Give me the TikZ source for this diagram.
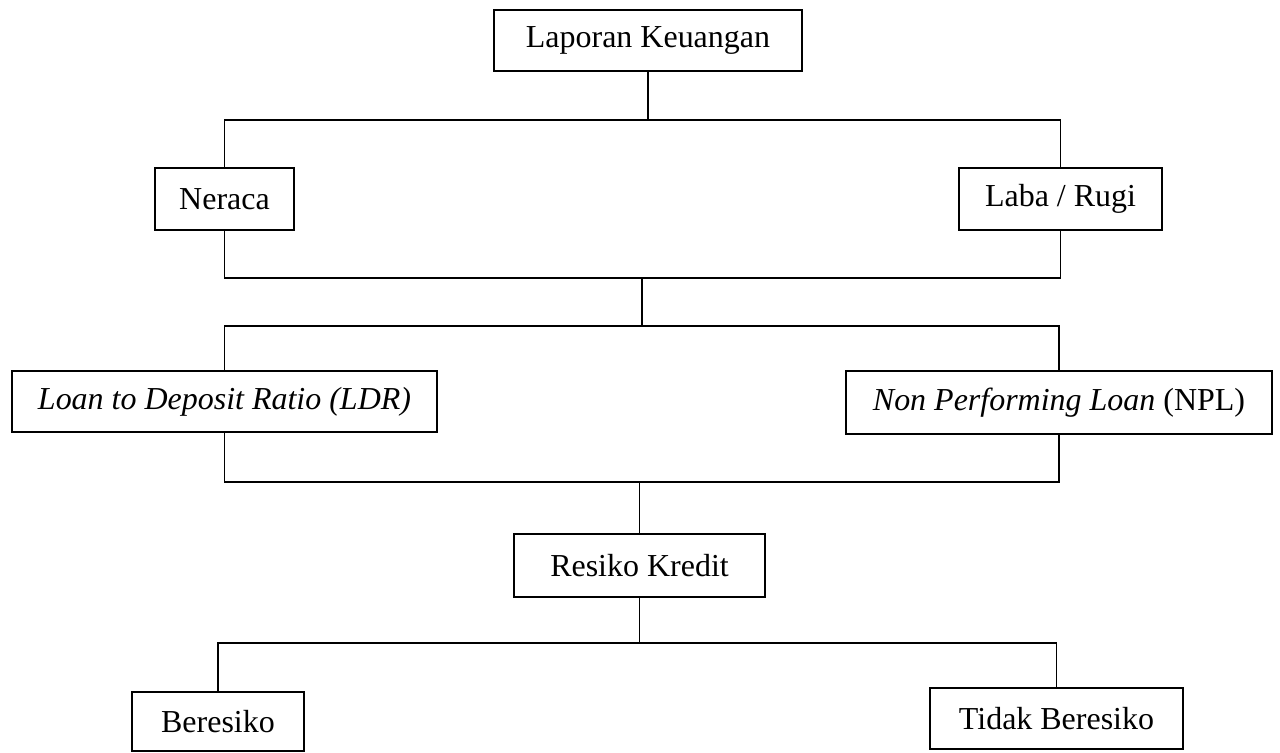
\documentclass[tikz,border=0pt]{standalone}
\usepackage{fontspec}
\setmainfont{Liberation Serif}
\usepackage{tikz}
\usetikzlibrary{calc}

\begin{document}
\begin{tikzpicture}[x=0.02cm,y=-0.02cm,
	box/.style={draw,rectangle,line width=1.6pt,inner sep=0pt,
		font=\fontsize{18.2}{21}\selectfont},
	link/.style={-,line width=1pt,black}
]
	\useasboundingbox (0,0) rectangle (1280,753);

	\node[box,minimum width=6.16cm,minimum height=1.22cm] at (648,40.5) (lap) {Laporan Keuangan};
	\node[box,minimum width=2.78cm,minimum height=1.24cm] at (224.5,199) (ner) {Neraca};
	\node[box,minimum width=4.06cm,minimum height=1.24cm] at (1060.5,199) (lab) {Laba / Rugi};
	\node[box,minimum width=8.5cm,minimum height=1.22cm] at (224.5,401.5) (ldr) {\textit{Loan to Deposit Ratio (LDR)}};
	\node[box,minimum width=8.52cm,minimum height=1.26cm] at (1059,402.5) (npl) {\textit{Non Performing Loan} (NPL)};
	\node[box,minimum width=5.02cm,minimum height=1.26cm] at (639.5,565.5) (res) {Resiko Kredit};
	\node[box,minimum width=3.44cm,minimum height=1.18cm] at (218,721.5) (ber) {Beresiko};
	\node[box,minimum width=5.06cm,minimum height=1.22cm] at (1056.5,718.5) (tid) {Tidak Beresiko};

	\coordinate (b1) at (0,120);
	\coordinate (b2) at (0,278);
	\coordinate (b3) at (0,326);
	\coordinate (b4) at (0,482);
	\coordinate (b5) at (0,643);

	\draw[link] (lap.south) -- (lap.south |- b1);
	\draw[link] (ner.north) -- (ner.north |- b1) -- (lab.north |- b1) -- (lab.north);
	\draw[link] (ner.south) -- (ner.south |- b2) -- (lab.south |- b2) -- (lab.south);
	\draw[link] ($(lap.south |- b2)+(-6,0)$) -- ($(lap.south |- b3)+(-6,0)$);
	\draw[link] (ldr.north) -- (ldr.north |- b3) -- (npl.north |- b3) -- (npl.north);
	\draw[link] (ldr.south) -- (ldr.south |- b4) -- (npl.south |- b4) -- (npl.south);
	\draw[link] (res.north) -- (res.north |- b4);
	\draw[link] (res.south) -- (res.south |- b5);
	\draw[link] (ber.north) -- (ber.north |- b5) -- (tid.north |- b5) -- (tid.north);
		\end{tikzpicture}
\end{document}
